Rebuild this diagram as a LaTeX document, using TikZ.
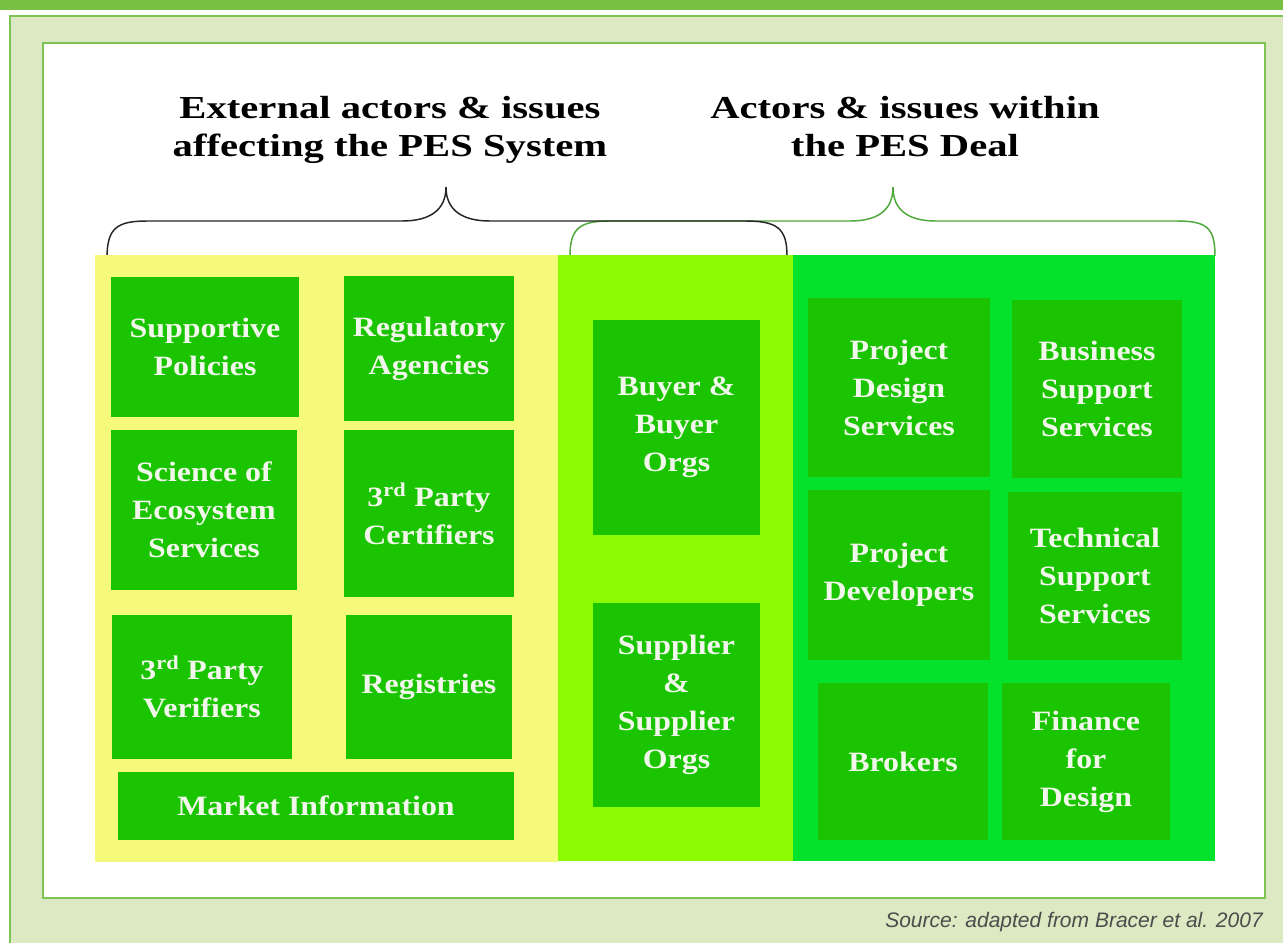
\documentclass[tikz,border=0pt]{standalone}
\usepackage{fontspec}
\usepackage{tikz}
\newfontfamily\titlefont{Liberation Serif}[FakeStretch=1.27]
\newfontfamily\boxfont{Liberation Serif}[FakeStretch=1.14]
\newfontfamily\srcfont{Liberation Sans}
\definecolor{barGreen}{HTML}{78C044}
\definecolor{panelBg}{HTML}{DCE9C2}
\definecolor{frameGreen}{HTML}{7CC456}
\definecolor{extYellow}{HTML}{F5FA7A}
\definecolor{dealLime}{HTML}{8CFA02}
\definecolor{dealGreen}{HTML}{05E22C}
\definecolor{boxGreen}{HTML}{1AC400}
\definecolor{boxText}{HTML}{F2F7EC}
\definecolor{braceGreen}{HTML}{4EA83A}
\tikzstyle{actor}=[fill=boxGreen, text=boxText, inner sep=0pt, align=center, font=\boxfont\bfseries\fontsize{21}{28.5}\selectfont]
\tikzstyle{heading}=[align=center, inner sep=0pt, font=\titlefont\bfseries\fontsize{24}{28.5}\selectfont]
\tikzstyle{bracket}=[line width=1.1pt]
\tikzset{wd/.style={minimum width=#1*0.75pt}, ht/.style={minimum height=#1*0.75pt}}

\begin{document}
\begin{tikzpicture}[x=0.75pt, y=-0.75pt]
	\useasboundingbox (0,0) rectangle (1283,943);
	\clip (0,0) rectangle (1283,943);

	% frame
	\fill[barGreen] (0,0) rectangle (1283,10);
	\draw[frameGreen, fill=panelBg, line width=1.2pt] (10,16) rectangle (1300,960);
	\draw[frameGreen, fill=white, line width=1.2pt] (43,43) rectangle (1265,898);

	% headings
	\node[heading] (ext) at (390,130) {External actors \& issues\\affecting the PES System};
	\node[heading] (deal) at (905,127) {Actors \& issues within\\the PES Deal};

	% braces
	\draw[bracket, braceGreen] (570,256) .. controls (570,228) and (580,221) .. (610,221) -- (850,221)
		.. controls (878,221) and (893,210) .. (893,187) .. controls (893,210) and (908,221) .. (936,221)
		-- (1177,221) .. controls (1207,221) and (1215,228) .. (1215,256);
	\draw[bracket, black!85] (107,258) .. controls (107,228) and (117,221) .. (147,221) -- (402,221)
		.. controls (430,221) and (446,210) .. (446,187) .. controls (446,210) and (462,221) .. (490,221)
		-- (745,221) .. controls (777,221) and (787,228) .. (787,256);

	% panels
	\fill[extYellow] (95,255) rectangle (558,862);
	\fill[dealLime] (558,255) rectangle (793,861);
	\fill[dealGreen] (793,255) rectangle (1215,861);

	% external actors
	\node[actor, wd=188, ht=140] (sp) at (205,347) {Supportive\\Policies};
	\node[actor, wd=170, ht=145] (ra) at (429,348.5) {Regulatory\\Agencies};
	\node[actor, wd=186, ht=160] (ses) at (204,510) {Science of\\Ecosystem\\Services};
	\node[actor, wd=170, ht=167] (cert) at (429,513.5) {3\textsuperscript{rd} Party\\Certifiers};
	\node[actor, wd=180, ht=144] (ver) at (202,687) {3\textsuperscript{rd} Party\\Verifiers};
	\node[actor, wd=166, ht=144] (reg) at (429,687) {Registries};
	\node[actor, wd=396, ht=68] (mi) at (316,806) {Market Information};

	% buyers and suppliers
	\node[actor, wd=167, ht=215] (buy) at (676.5,427.5) {Buyer \&\\Buyer\\Orgs};
	\node[actor, wd=167, ht=204] (sup) at (676.5,705) {Supplier\\\&\\Supplier\\Orgs};

	% deal actors
	\node[actor, wd=182, ht=179] (pds) at (899,387.5) {Project\\Design\\Services};
	\node[actor, wd=170, ht=178] (bss) at (1097,389) {Business\\Support\\Services};
	\node[actor, wd=182, ht=170] (pd) at (899,575) {Project\\Developers};
	\node[actor, wd=174, ht=168] (tss) at (1095,576) {Technical\\Support\\Services};
	\node[actor, wd=170, ht=157] (brk) at (903,761.5) {Brokers};
	\node[actor, wd=168, ht=157] (ffd) at (1086,761.5) {Finance\\for\\Design};

	\node[anchor=base east, inner sep=0pt, text=black!70, font=\srcfont\itshape\fontsize{15.75}{18}\selectfont] (src) at (1263,927) {Source: adapted from Bracer et al. 2007};
\end{tikzpicture}
\end{document}
